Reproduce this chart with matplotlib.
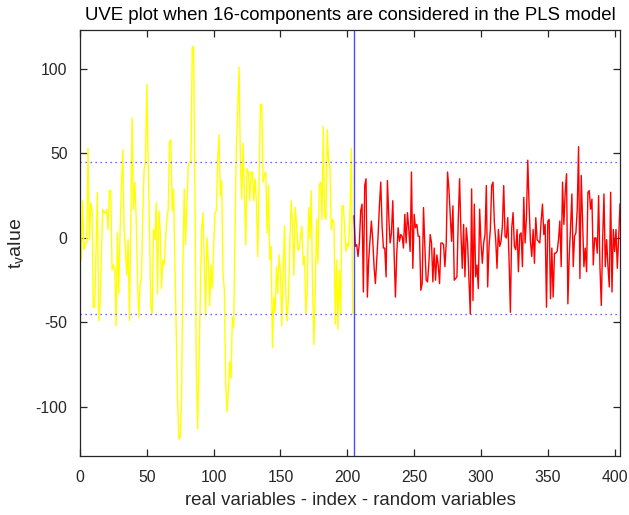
import numpy as np
import matplotlib
matplotlib.use("Agg")
import matplotlib.pyplot as plt

plt.rcParams['font.family'] = ['Liberation Sans', 'DejaVu Sans']
plt.rcParams['axes.unicode_minus'] = False

# t-values of the real (measured) variables
real_t = [
    -13, 22, -7, -3, -3, 53, -1, 21, 16, -41, -41, -7, 27, -49, -39, -10, 17, 15, 15, 17,
    5, 28, 28, -19, -16, -19, -52, 3, -33, 5, 31, 52, 5, -7, -22, -1, -49, 7, 71, 17,
    33, 13, -25, -47, -27, -24, 15, 41, 45, 91, 45, 5, -41, -45, 5, -1, 21, -33, 16, 5,
    -30, -13, -16, -1, 11, 17, 57, 58, 16,
    29, -15, -55, -95, -119, -118, -95, -15, 29, -4, 21, 43, 45, 45, 113, 113, 25, -75, -113, -75,
    -35, 5, 15, -15, -46, 0, -15, -40, -16, -30, -5, 15, 16, 45, 61, 25, 34, -21, -31, -85,
    -103, -91, -73, -83, -47, -53, 5, 55, 75, 101, 45, 23, 56, 25, -4, 41, 39, 22, 39, 39,
    22, 35, 21, -11, 35, 79, 79, 33, 37,
    39, 3, 31, -13, -5, -65, -35, -44, -17, -33, -10, -21, -52, -19, 7, -33, -49, -35, -3, 22,
    9, -22, 18, 9, -7, -7, 1, 7, -16, -11, -45, -31, 18, 0, 28, -31, -63, -31, 11, -15,
    31, 33, 11, 66, 13, 11, 64, 45, 43, 5, 11, 9, -51, -13, -54, -19, -45, 19, 19, 5,
    -8, -3, -5, 15, 53, -45,
]

# t-values of the added random variables
random_t = [
    13, -5, -4, -11, -3, 16, 20, -32, 31, 35, -35, -13, -1, 10, -1, -17, -27, -13, 1, 19,
    33, 7, -6, -6, -23, 34, 13, -3, 3, 22, -9, -35, -9, 6, -2, 2, 1, -6, 14, -3,
    15, 5, -8, 39, -18, 14, 6, 8, 1, 1, -31, -27, 18, -5, -25, -26, -15, 2, -3, -26,
    -6, -25, -10, -16, -27, -3,
    -3, -4, -17, -3, 39, 29, 13, -2, 19, -25, -24, -23, 11, 35, 3, -18, 8, -23, 6, -3,
    -25, -45, 29, -37, 20, -23, -16, -30, 17, -3, -15, -3, 2, 31, -29, -5, 5, 31, 33, 9,
    -1, -18, 5, -5, -2, 7, 31, 1, 0, 12, -13, -44, 6, 15, -5, -7, 5, -20, 2, 3,
    -17, 24, -3, 12, 46, 19, -2, -11,
    5, -15, 12, -1, -2, -3, 10, 20, 2, 8, -41, 10, 11, -36, -6, -35, -9, -9, -8, -1,
    10, -17, 33, 8, 27, 38, -39, -11, 6, 26, -17, 1, 3, 17, 54, -24, 37, 9, -17, -6,
    -20, 27, 28, 17, 23, -16, 0, 0, -9, 25, -17, -40, -2, 26, -17, -1, -17, -29, 27, -32,
    5, -8, 5, -18, 0, 20,
]

cutoff = 45          # reliability cut-off level (+/-)
split_index = 205    # first random variable

x_real = np.arange(1, len(real_t) + 1)
x_rand = np.arange(split_index, split_index + len(random_t))

fig = plt.figure(figsize=(6.29, 5.15), dpi=100)
ax = fig.add_axes([80 / 629, 59 / 515, 540 / 629, 426 / 515])

ax.plot(x_real, real_t, color=(1, 1, 0), linewidth=1.0)
ax.plot(x_rand, random_t, color=(1, 0, 0), linewidth=1.0)
ax.axvline(split_index, color=(0, 0, 1), linewidth=1.0, alpha=0.7)
ax.axhline(cutoff, color=(0, 0, 1), linestyle=(0, (1, 3)), linewidth=0.9, alpha=0.8)
ax.axhline(-cutoff, color=(0, 0, 1), linestyle=(0, (1, 3)), linewidth=0.9, alpha=0.8)

all_t = np.concatenate([real_t, random_t])
ax.set_xlim(0, x_rand[-1])
ax.set_ylim(all_t.min() - 10, all_t.max() + 10)
ax.set_xticks(np.arange(0, 401, 50))
ax.set_yticks([-100, -50, 0, 50, 100])

dark = (0.15, 0.15, 0.15)
for s in ax.spines.values():
    s.set_color(dark)
    s.set_linewidth(0.9)
ax.tick_params(direction='in', length=5, width=0.9, colors=dark, labelsize=11.3,
               top=True, right=True)
ax.tick_params(axis='x', pad=10)
ax.tick_params(axis='y', pad=9)

ax.set_title('UVE plot when 16-components are considered in the PLS model',
             fontsize=13.4, color='black', pad=7)
ax.set_xlabel('real variables - index - random variables', fontsize=13.4, color=dark,
              labelpad=5)
ax.set_ylabel(r't$_\mathregular{v}$alue', fontsize=14, color=dark, labelpad=6)

fig.savefig('out.png', dpi=100)
